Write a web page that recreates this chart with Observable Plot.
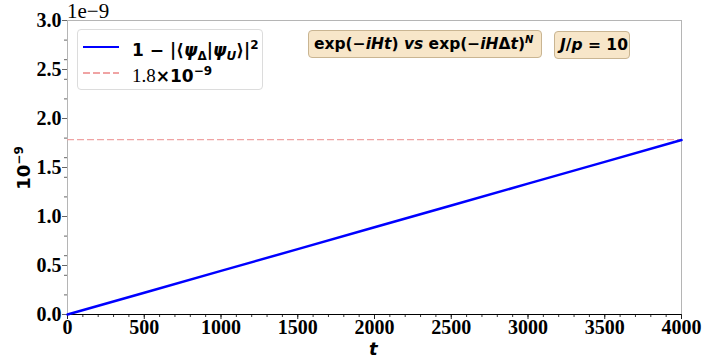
<!DOCTYPE html>
<html>
<head>
<meta charset="utf-8">
<script src="https://cdn.jsdelivr.net/npm/d3@7"></script>
<script src="https://cdn.jsdelivr.net/npm/@observablehq/plot@0.6"></script>
<style>
  body { margin: 0; background: #fff; }
  #wrap { position: relative; width: 704px; height: 360px; overflow: hidden; }
  .ov { position: absolute; white-space: nowrap; }
  .sans { font-family: "DejaVu Sans", sans-serif; font-weight: bold; }
  .serif { font-family: "Liberation Serif", serif; }
  .box { background: #f7e6c9; border: 1px solid #c9b592; border-radius: 4px; font-size: 15.5px; line-height: 26px; padding: 0 5px; box-sizing: border-box; height: 28px; }
</style>
</head>
<body>
<div id="wrap"></div>
<script>
// data, values in units of 1e-9
const tValues = [0, 500, 1000, 1500, 2000, 2500, 3000, 3500, 4000];
const infidelity = [0, 0.222, 0.445, 0.667, 0.89, 1.112, 1.335, 1.557, 1.78];
const referenceLevel = [1.785];
const xTicks = [0, 500, 1000, 1500, 2000, 2500, 3000, 3500, 4000];
const xMinor = d3.range(0, 4001, 100);
const yTicks = [0, 0.5, 1.0, 1.5, 2.0, 2.5, 3.0];
const yMinor = [0.2, 0.4, 0.6, 0.8, 1.2, 1.4, 1.6, 1.8, 2.2, 2.4, 2.6, 2.8];

const series = tValues.map((t, i) => ({t, v: infidelity[i]}));

const chart = Plot.plot({
  width: 704,
  height: 360,
  marginLeft: 67,
  marginRight: 23,
  marginTop: 20,
  marginBottom: 46,
  x: {domain: [0, 4000]},
  y: {domain: [0, 3]},
  style: {fontFamily: "Liberation Serif, serif", background: "#fff", color: "#000"},
  marks: [
    Plot.frame({stroke: "#b5b5b5", strokeWidth: 1}),
    Plot.axisY(yMinor, {tickSize: 3, tickFormat: null, label: null, stroke: "#666", text: null}),
    Plot.axisX(xMinor, {tickSize: 3, label: null, text: null, stroke: "#333"}),
    Plot.axisY(yTicks, {tickSize: 5, tickPadding: 1, tickFormat: d3.format(".1f"), label: null,
      fontSize: 20, fontWeight: "bold", stroke: "#666"}),
    Plot.axisX(xTicks, {tickSize: 5, tickPadding: 0, tickFormat: d => String(d), label: null,
      fontSize: 20, fontWeight: "bold", stroke: "#222"}),
    Plot.ruleY([0], {stroke: "#000", strokeWidth: 1.2}),
    Plot.ruleY(referenceLevel, {stroke: "#f0a4a4", strokeWidth: 1.3, strokeDasharray: "7,3"}),
    Plot.line(series, {x: "t", y: "v", stroke: "#0000ff", strokeWidth: 2.5})
  ]
});

const wrap = document.getElementById("wrap");
wrap.appendChild(chart);

function add(html, style, cls) {
  const d = document.createElement("div");
  d.className = "ov " + (cls || "");
  d.innerHTML = html;
  Object.assign(d.style, style);
  wrap.appendChild(d);
  return d;
}

// offset label
add("1e\u22129", {left: "67px", top: "1px", fontSize: "21px", lineHeight: "21px"}, "serif");

// y label
add("10<sup style='font-size:12px'>\u22129</sup>", {left: "1px", top: "157px", fontSize: "18px",
  transform: "rotate(-90deg)", transformOrigin: "center", width: "44px", textAlign: "center"}, "sans");

// x label
add("<i>t</i>", {left: "369px", top: "340px", fontSize: "18px", lineHeight: "18px"}, "sans");

// legend
add(`
  <div style="position:absolute;left:0;top:0;width:186px;height:61px;background:#fff;border:1px solid #dcdcdc;border-radius:4px;box-sizing:border-box;"></div>
  <div style="position:absolute;left:6px;top:17px;width:36px;border-top:2px solid #0000ff;"></div>
  <div class="sans" style="position:absolute;left:55px;top:5px;font-size:17px;line-height:22px;">1 \u2212 |\u27E8<i>\u03C8</i><sub style="font-size:12px">\u0394</sub>|<i>\u03C8</i><sub style="font-size:12px"><i>U</i></sub>\u27E9|<sup style="font-size:12px">2</sup></div>
  <div style="position:absolute;left:6px;top:43px;width:36px;height:1.5px;background:repeating-linear-gradient(to right,#f0a4a4 0 7px,transparent 7px 10px);"></div>
  <div style="position:absolute;left:55px;top:31px;font-size:17px;line-height:22px;"><span class="serif" style="font-size:19px">1.8</span><span class="sans">\u00D710<sup style="font-size:12px">\u22129</sup></span></div>
`, {left: "77px", top: "29px", width: "186px", height: "61px"});

// annotation boxes
add("exp(\u2212<i>iHt</i>) <i>vs</i> exp(\u2212<i>iH</i>\u0394<i>t</i>)<sup style='font-size:10px;line-height:0'><i>N</i></sup>",
  {left: "308px", top: "30px", width: "234px"}, "sans box");
add("<i>J</i>/<i>p</i> = 10", {left: "554px", top: "31px", width: "76px"}, "sans box");
</script>
</body>
</html>
